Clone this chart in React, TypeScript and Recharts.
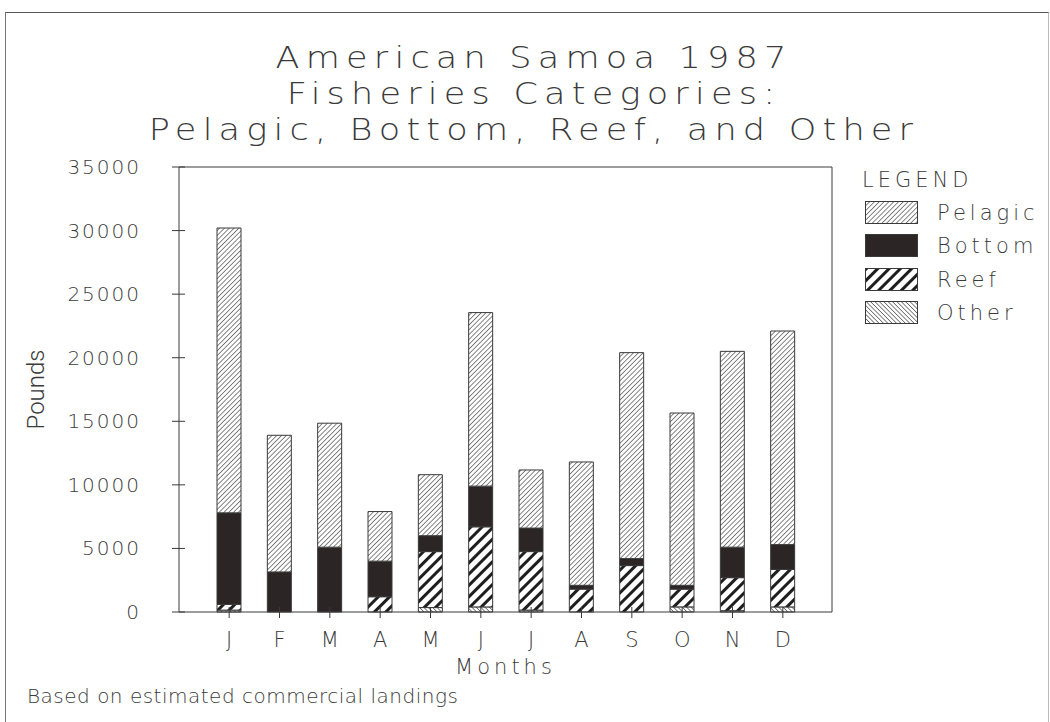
import { Bar, BarChart, XAxis, YAxis } from 'recharts'

const months = ['Jan', 'Feb', 'Mar', 'Apr', 'May', 'Jun', 'Jul', 'Aug', 'Sep', 'Oct', 'Nov', 'Dec']
const monthLabels = ['J', 'F', 'M', 'A', 'M', 'J', 'J', 'A', 'S', 'O', 'N', 'D']
const other = [150, 0, 0, 0, 350, 400, 150, 0, 0, 400, 100, 400]
const reef = [450, 0, 0, 1200, 4400, 6300, 4600, 1800, 3650, 1400, 2600, 2950]
const bottom = [7200, 3150, 5100, 2800, 1250, 3200, 1850, 300, 550, 300, 2400, 1950]
const pelagic = [22400, 10750, 9750, 3900, 4800, 13650, 4570, 9700, 16200, 13550, 15400, 16800]
const yTicks = [0, 5000, 10000, 15000, 20000, 25000, 30000, 35000]
const titleLines = ['American Samoa 1987', 'Fisheries Categories:', 'Pelagic, Bottom, Reef, and Other']

const series = [
  { key: 'pelagic', name: 'Pelagic', fill: 'url(#pelagic)' },
  { key: 'bottom', name: 'Bottom', fill: '#2b2526' },
  { key: 'reef', name: 'Reef', fill: 'url(#reef)' },
  { key: 'other', name: 'Other', fill: 'url(#other)' },
]

const data = months.map((m, i) => ({
  month: m,
  other: other[i],
  reef: reef[i],
  bottom: bottom[i],
  pelagic: pelagic[i],
}))

const FONT = "'DejaVu Sans', sans-serif"
const INK = '#3a3a3a'

function YTick({ x, y, payload }: any) {
  return (
    <g>
      <line x1={x - 7} x2={x + 6} y1={y} y2={y} stroke={INK} />
      <text
        x={x - 38}
        y={y}
        dy={7}
        textAnchor="end"
        fontFamily={FONT}
        fontWeight={200}
        fontSize={20}
        letterSpacing={2}
        fill={INK}
      >
        {payload.value}
      </text>
    </g>
  )
}

function XTick({ x, y, index }: any) {
  return (
    <g>
      <line x1={x} x2={x} y1={y - 5} y2={y + 6} stroke={INK} />
      <text
        x={x}
        y={y + 35}
        textAnchor="middle"
        fontFamily={FONT}
        fontWeight={200}
        fontSize={21}
        fill={INK}
      >
        {monthLabels[index]}
      </text>
    </g>
  )
}

function LegendBox() {
  return (
    <div
      style={{
        position: 'absolute',
        left: 862,
        top: 166,
        fontFamily: FONT,
        fontWeight: 200,
        color: INK,
        fontSize: 21,
        letterSpacing: 4,
      }}
    >
      <div style={{ marginTop: 2, marginBottom: 4 }}>LEGEND</div>
      {series.map((s) => (
        <div key={s.key} style={{ display: 'flex', alignItems: 'center', height: 33.5 }}>
          <svg width={56} height={24} style={{ marginLeft: 3 }}>
            <rect x={0.5} y={0.5} width={52} height={22} fill={s.fill} stroke={INK} />
          </svg>
          <span style={{ marginLeft: 16 }}>{s.name}</span>
        </div>
      ))}
    </div>
  )
}

export default function App() {
  return (
    <div style={{ position: 'absolute', left: 0, top: 0, width: 1050, height: 722, background: '#fff' }}>
      <svg width={0} height={0} style={{ position: 'absolute' }}>
        <defs>
          <pattern id="pelagic" width={3.4} height={3.4} patternUnits="userSpaceOnUse" patternTransform="rotate(45)">
            <rect width={3.4} height={3.4} fill="#fff" />
            <line x1={0} y1={0} x2={0} y2={3.4} stroke="#444" strokeWidth={1.3} />
          </pattern>
          <pattern id="other" width={3.1} height={3.1} patternUnits="userSpaceOnUse" patternTransform="rotate(-45)">
            <rect width={3.1} height={3.1} fill="#fff" />
            <line x1={0} y1={0} x2={0} y2={3.1} stroke="#444" strokeWidth={1.3} />
          </pattern>
          <pattern id="reef" width={8} height={8} patternUnits="userSpaceOnUse" patternTransform="rotate(45)">
            <rect width={8} height={8} fill="#fff" />
            <line x1={1.5} y1={0} x2={1.5} y2={8} stroke="#1e1e1e" strokeWidth={3} />
          </pattern>
        </defs>
      </svg>
      <div
        style={{
          position: 'absolute',
          left: 5,
          top: 12,
          width: 1042,
          height: 712,
          borderTop: '1px solid #555',
          borderLeft: '1px solid #777',
          borderRight: '1px solid #bbb',
        }}
      />
      {titleLines.map((t, i) => (
        <div
          key={i}
          style={{
            position: 'absolute',
            left: 0,
            top: 39 + i * 36,
            width: 1068,
            textAlign: 'center',
            fontFamily: FONT,
            fontWeight: 200,
            fontSize: 31,
            lineHeight: '36px',
            letterSpacing: 5.5,
            color: INK,
            transform: 'scaleX(1.13)',
            transformOrigin: '534px 0',
          }}
        >
          {t}
        </div>
      ))}
      <BarChart
        width={1050}
        height={722}
        data={data}
        margin={{ top: 166, right: 217, bottom: 70, left: 99 }}
        barSize={24}
      >
        <XAxis
          dataKey="month"
          height={40}
          padding={{ left: 25, right: 24 }}
          axisLine={{ stroke: INK }}
          tickLine={false}
          tickSize={0}
          tickMargin={0}
          tick={<XTick />}
          interval={0}
          label={{
            value: 'Months',
            position: 'insideBottom',
            offset: -22,
            fontFamily: FONT,
            fontWeight: 200,
            fontSize: 21,
            letterSpacing: 4,
            fill: INK,
          }}
        />
        <XAxis xAxisId="top" orientation="top" height={1} tick={false} tickLine={false} axisLine={{ stroke: INK }} />
        <YAxis
          width={80}
          type="number"
          domain={[0, 35000]}
          ticks={yTicks}
          axisLine={{ stroke: INK }}
          tickLine={false}
          tickSize={0}
          tickMargin={0}
          tick={<YTick />}
          label={{
            value: 'Pounds',
            angle: -90,
            position: 'insideLeft',
            offset: -64,
            textAnchor: 'middle',
            fontFamily: "'Liberation Sans Narrow', 'Roboto', sans-serif",
            fontWeight: 300,
            fontSize: 24,
            fill: INK,
          }}
        />
        <YAxis
          yAxisId="r"
          orientation="right"
          width={1}
          domain={[0, 35000]}
          tick={false}
          tickLine={false}
          axisLine={{ stroke: INK }}
        />
        <Bar dataKey="other" stackId="a" fill="url(#other)" stroke={INK} strokeWidth={1} isAnimationActive={false} />
        <Bar dataKey="reef" stackId="a" fill="url(#reef)" stroke={INK} strokeWidth={1} isAnimationActive={false} />
        <Bar dataKey="bottom" stackId="a" fill="#2b2526" stroke={INK} strokeWidth={1} isAnimationActive={false} />
        <Bar dataKey="pelagic" stackId="a" fill="url(#pelagic)" stroke={INK} strokeWidth={1} isAnimationActive={false} />
      </BarChart>
      <LegendBox />
      <div
        style={{
          position: 'absolute',
          left: 27,
          top: 684,
          fontFamily: FONT,
          fontWeight: 200,
          fontSize: 20,
          letterSpacing: 0.5,
          color: INK,
        }}
      >
        Based on estimated commercial landings
      </div>
    </div>
  )
}
